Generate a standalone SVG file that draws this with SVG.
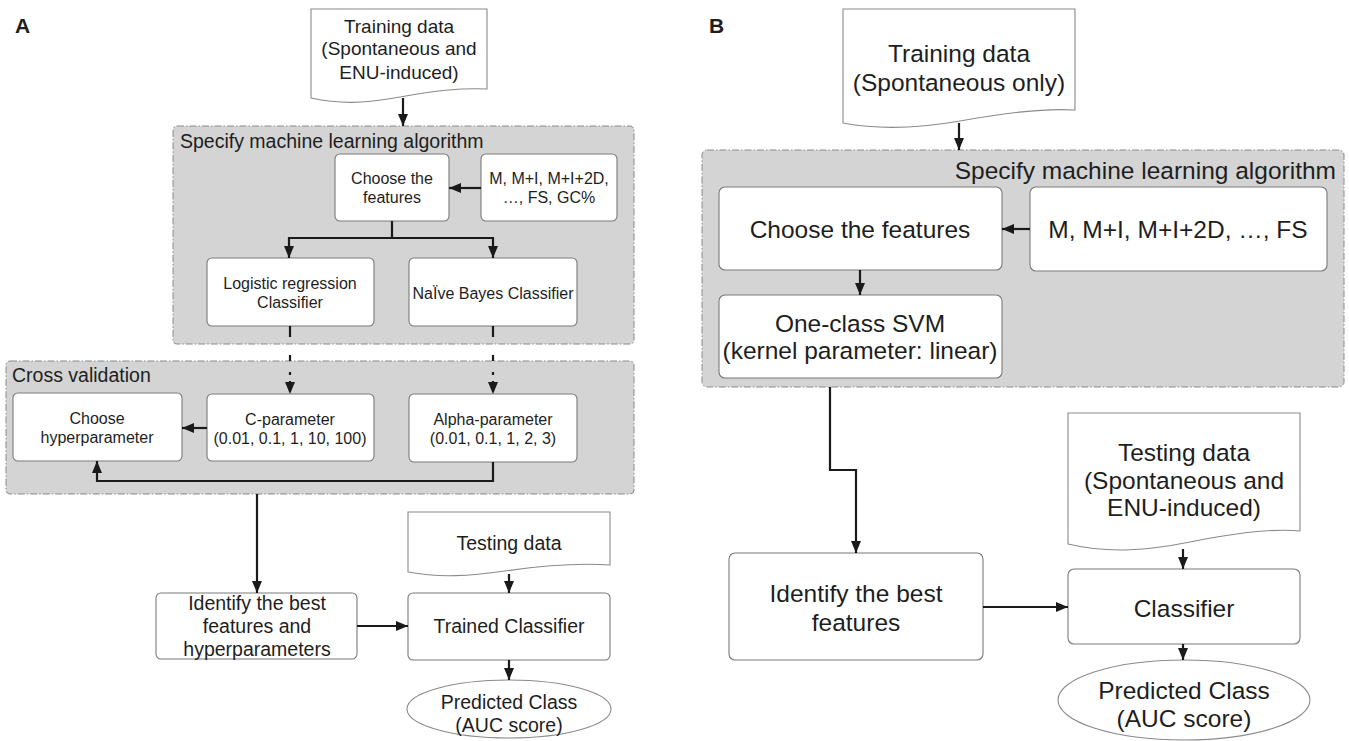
<svg xmlns="http://www.w3.org/2000/svg" width="1349" height="741" viewBox="0 0 1349 741">
<style>
text{font-family:"Liberation Sans",Arial,Helvetica,sans-serif;fill:#1e1e1e}
.a{font-size:16px;text-anchor:middle}
.am{font-size:19.5px;text-anchor:middle}
.b{font-size:24.5px;text-anchor:middle}
.lbl{font-size:21px;font-weight:bold}
.grp{fill:#d4d4d4;stroke:#8a8a8a;stroke-width:1;stroke-dasharray:7 2 1.5 2}
.nd{fill:#fff;stroke:#7a7a7a;stroke-width:1.1}
.doc{fill:#fff;stroke:#8a8a8a;stroke-width:1.1}
.cn{fill:none;stroke:#1a1a1a;stroke-width:2.2;marker-end:url(#ah)}
.dd{stroke-dasharray:11 18 6 11 3 6}
</style>
<defs>
<marker id="ah" markerUnits="userSpaceOnUse" markerWidth="14" markerHeight="12" refX="12" refY="5" orient="auto">
<path d="M0,0 L12,5 L0,10 Z" fill="#1a1a1a"/>
</marker>
</defs>

<text x="15" y="33" class="lbl">A</text>
<text x="709" y="33" class="lbl">B</text>

<!-- Panel A groups -->
<g id="a-specify">
<rect x="173" y="126" width="461" height="218" rx="4" class="grp"/>
<text x="180" y="148" style="font-size:19.5px">Specify machine learning algorithm</text>
</g>
<g id="a-crossval">
<rect x="6" y="361" width="628" height="133" rx="4" class="grp"/>
<text x="12" y="382" style="font-size:19.5px">Cross validation</text>
</g>

<g id="a-training">
<path d="M311,9 H487 V89 C460,88 440,90 400,97 C360,104 340,104 311,98 Z" class="doc"/>
<text x="399" y="33" style="font-size:19px;text-anchor:middle">Training data</text>
<text x="399" y="55" style="font-size:19px;text-anchor:middle">(Spontaneous and</text>
<text x="399" y="79" style="font-size:19px;text-anchor:middle">ENU-induced)</text>
</g>
<g id="a-choose">
<rect x="335" y="154" width="114" height="67" rx="5" class="nd"/>
<text x="392" y="184" class="a">Choose the</text>
<text x="392" y="203" class="a">features</text>
</g>
<g id="a-feats">
<rect x="481" y="154" width="136" height="67" rx="5" class="nd"/>
<text x="549" y="184" class="a">M, M+I, M+I+2D,</text>
<text x="549" y="203" class="a">…, FS, GC%</text>
</g>
<g id="a-logistic">
<rect x="207" y="258" width="167" height="68" rx="5" class="nd"/>
<text x="290" y="289" class="a">Logistic regression</text>
<text x="290" y="308" class="a">Classifier</text>
</g>
<g id="a-naive">
<rect x="409" y="258" width="168" height="68" rx="5" class="nd"/>
<text x="493" y="299" class="a">NaÏve Bayes Classifier</text>
</g>
<g id="a-choosehyp">
<rect x="13" y="393" width="169" height="68" rx="5" class="nd"/>
<text x="97" y="424" class="a">Choose</text>
<text x="97" y="443" class="a">hyperparameter</text>
</g>
<g id="a-cparam">
<rect x="207" y="394" width="167" height="67" rx="5" class="nd"/>
<text x="290" y="425" class="a">C-parameter</text>
<text x="290" y="444" class="a">(0.01, 0.1, 1, 10, 100)</text>
</g>
<g id="a-alpha">
<rect x="409" y="394" width="168" height="68" rx="5" class="nd"/>
<text x="493" y="425" class="a">Alpha-parameter</text>
<text x="493" y="444" class="a">(0.01, 0.1, 1, 2, 3)</text>
</g>
<g id="a-identify">
<rect x="156" y="593" width="201" height="66" rx="5" class="nd"/>
<text x="257" y="610" class="am">Identify the best</text>
<text x="257" y="633" class="am">features and</text>
<text x="257" y="656" class="am">hyperparameters</text>
</g>
<g id="a-testing">
<path d="M408,512 H610 V565 C580,563 540,566 505,571 C470,576 440,578 408,572 Z" class="doc"/>
<text x="509" y="550" class="am">Testing data</text>
</g>
<g id="a-trained">
<rect x="408" y="593" width="202" height="67" rx="5" class="nd"/>
<text x="509" y="633" class="am">Trained Classifier</text>
</g>
<g id="a-predicted">
<ellipse cx="509" cy="709" rx="102" ry="29" class="doc"/>
<text x="509" y="709" class="am">Predicted Class</text>
<text x="509" y="732" class="am">(AUC score)</text>
</g>

<!-- Panel B -->
<g id="b-specify">
<rect x="702" y="150" width="642" height="237" rx="5" class="grp"/>
<text x="1336" y="179" style="font-size:24.5px;text-anchor:end">Specify machine learning algorithm</text>
</g>
<g id="b-training">
<path d="M843,9 H1075 V110 C1040,108 1000,114 960,121 C920,128 880,130 843,123 Z" class="doc"/>
<text x="959" y="62" class="b">Training data</text>
<text x="959" y="91" class="b">(Spontaneous only)</text>
</g>
<g id="b-choose">
<rect x="719" y="187" width="283" height="83" rx="6" class="nd"/>
<text x="860" y="238" class="b">Choose the features</text>
</g>
<g id="b-feats">
<rect x="1030" y="187" width="297" height="84" rx="6" class="nd"/>
<text x="1178" y="238" class="b">M, M+I, M+I+2D, …, FS</text>
</g>
<g id="b-svm">
<rect x="719" y="295" width="283" height="83" rx="6" class="nd"/>
<text x="860" y="332" class="b">One-class SVM</text>
<text x="860" y="359" class="b">(kernel parameter: linear)</text>
</g>
<g id="b-identify">
<rect x="729" y="553" width="254" height="107" rx="6" class="nd"/>
<text x="856" y="602" class="b">Identify the best</text>
<text x="856" y="631" class="b">features</text>
</g>
<g id="b-testing">
<path d="M1068,413 H1300 V531 C1270,528 1230,534 1190,542 C1150,550 1110,554 1068,544 Z" class="doc"/>
<text x="1184" y="461" class="b">Testing data</text>
<text x="1184" y="489" class="b">(Spontaneous and</text>
<text x="1184" y="516" class="b">ENU-induced)</text>
</g>
<g id="b-classifier">
<rect x="1068" y="569" width="232" height="75" rx="6" class="nd"/>
<text x="1184" y="617" class="b">Classifier</text>
</g>
<g id="b-predicted">
<ellipse cx="1184" cy="700" rx="126" ry="40" class="doc"/>
<text x="1184" y="699" class="b">Predicted Class</text>
<text x="1184" y="727" class="b">(AUC score)</text>
</g>

<g id="connectors">
<path d="M403,98 V126" class="cn"/>
<path d="M481,188 H449" class="cn"/>
<path d="M392,221 V238 H289 V258" class="cn"/>
<path d="M392,238 H493 V258" class="cn"/>
<path d="M290,326 V394" class="cn dd"/>
<path d="M493,326 V394" class="cn dd"/>
<path d="M207,428 H182" class="cn"/>
<path d="M493,462 V481 H97 V461" class="cn"/>
<path d="M257,494 V593" class="cn"/>
<path d="M357,626 H408" class="cn"/>
<path d="M509,574 V593" class="cn"/>
<path d="M509,660 V680" class="cn"/>

<path d="M959,123 V150" class="cn"/>
<path d="M1030,229 H1002" class="cn"/>
<path d="M860,270 V295" class="cn"/>
<path d="M830,387 V470 H856 V553" class="cn"/>
<path d="M983,607 H1068" class="cn"/>
<path d="M1183,549 V569" class="cn"/>
<path d="M1183,644 V660" class="cn"/>
</g>
</svg>
